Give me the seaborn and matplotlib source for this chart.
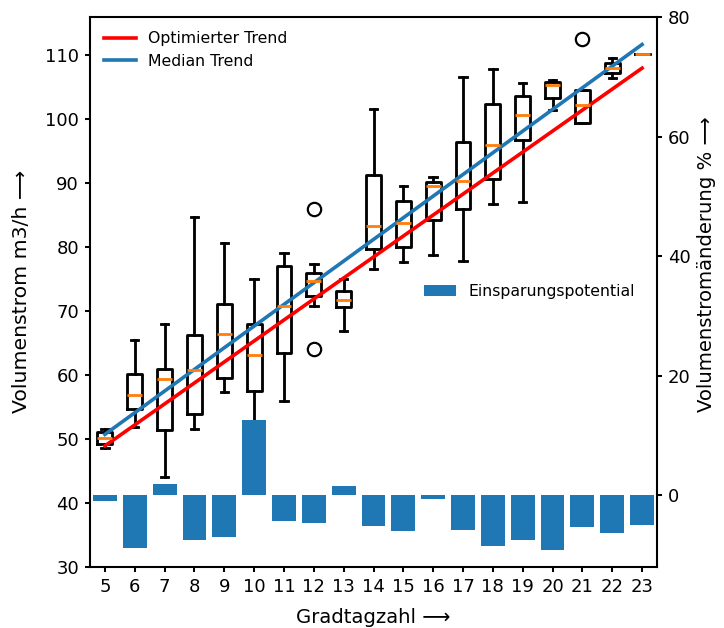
import matplotlib
matplotlib.use("Agg")
import matplotlib.pyplot as plt
import numpy as np
import pandas as pd
import seaborn as sns

# ---------------- data ----------------
gradtagzahl = list(range(5, 24))
whisker_low = [48.6, 51.8, 44.0, 51.5, 57.4, 51.0, 56.0, 70.8, 66.8, 76.6,
               77.7, 78.7, 77.9, 86.8, 87.0, 101.4, 99.4, 106.5, 110.2]
q1 = [49.2, 54.6, 51.4, 53.9, 59.6, 57.5, 63.4, 72.4, 70.6, 79.7,
      80.0, 84.2, 86.0, 90.6, 96.8, 103.3, 99.4, 107.2, 110.2]
median = [50.1, 56.9, 59.3, 60.8, 66.4, 63.1, 70.8, 74.7, 71.8, 83.3,
          83.7, 89.6, 90.3, 95.9, 100.6, 105.3, 102.3, 108.0, 110.2]
q3 = [51.1, 60.1, 60.9, 66.3, 71.1, 67.9, 77.0, 76.0, 73.2, 91.3,
      87.2, 90.2, 96.4, 102.4, 103.6, 105.8, 104.6, 108.8, 110.2]
whisker_high = [51.5, 65.5, 68.0, 84.7, 80.6, 75.0, 79.0, 77.3, 75.0, 101.6,
                89.6, 90.9, 106.6, 107.8, 105.6, 106.2, 104.6, 109.6, 110.2]
outliers = {12: [86.0, 64.0], 21: [112.6]}

einsparung = [-1.0, -8.8, 1.85, -7.55, -7.1, 12.6, -4.3, -4.7, 1.45, -5.15,
              -6.1, -0.67, -5.9, -8.6, -7.5, -9.2, -5.4, -6.3, -5.0]

trend_x = [5, 23]
optimierter_trend = [48.9, 108.0]
median_trend = [50.7, 111.7]

left_ticks = [30, 40, 50, 60, 70, 80, 90, 100, 110]
right_ticks = [0, 20, 40, 60, 80]

TICK_FS = 11.5
LABEL_FS = 13
LEG_FS = 10

# ---------------- figure ----------------
W, H, DPI = 724, 628, 113
fig = plt.figure(figsize=(W / DPI, H / DPI), dpi=DPI)
ax = fig.add_axes([90 / W, 1 - 566.7 / H, (657 - 90) / W, (566.7 - 17) / H])

stats = []
for i, g in enumerate(gradtagzahl):
    stats.append(dict(whislo=whisker_low[i], q1=q1[i], med=median[i], q3=q3[i],
                      whishi=whisker_high[i], fliers=outliers.get(g, []),
                      label=str(g)))

lw_box = 1.8
ax.bxp(stats, positions=gradtagzahl, widths=0.5,
       boxprops=dict(color="black", linewidth=lw_box),
       whiskerprops=dict(color="black", linewidth=lw_box),
       capprops=dict(color="black", linewidth=lw_box),
       medianprops=dict(color="#ff7f0e", linewidth=lw_box),
       flierprops=dict(marker="o", markerfacecolor="none",
                       markeredgecolor="black", markersize=8.5,
                       markeredgewidth=1.4))

trend_df = pd.DataFrame({
    "Gradtagzahl": trend_x * 2,
    "Volumenstrom": optimierter_trend + median_trend,
    "Trend": ["Optimierter Trend"] * 2 + ["Median Trend"] * 2,
})
sns.lineplot(data=trend_df, x="Gradtagzahl", y="Volumenstrom", hue="Trend",
             hue_order=["Optimierter Trend", "Median Trend"],
             palette={"Optimierter Trend": "red", "Median Trend": "#1f77b4"},
             linewidth=2.3, ax=ax)
handles, labels = ax.get_legend_handles_labels()
ax.legend(handles, labels, loc="upper left", frameon=False, fontsize=LEG_FS)

ax.set_ylim(30, 116)
ax.set_yticks(left_ticks)
ax.set_ylabel("Volumenstrom m3/h \u27f6", fontsize=LABEL_FS, labelpad=9)

# ---------------- twin axis with bars ----------------
ax2 = ax.twinx()
bar_df = pd.DataFrame({"Gradtagzahl": gradtagzahl, "Einsparungspotential": einsparung})
sns.barplot(data=bar_df, x="Gradtagzahl", y="Einsparungspotential",
            native_scale=True, color="#1f77b4", saturation=1, width=0.8,
            ax=ax2)
ax2.set_ylim(-12, 80)
ax2.set_yticks(right_ticks)
ax2.set_ylabel("Volumenstromänderung % \u27f6", fontsize=12.5)
ax2.yaxis.label.set_y(0.55)
ax2.set_xlabel("")
ax2.legend(handles=[ax2.patches[0]], labels=["Einsparungspotential"],
           loc="center left", bbox_to_anchor=(0.565, 0.5), frameon=False,
           fontsize=LEG_FS)

ax.set_xlim(4.5, 23.5)
ax.set_xticks(gradtagzahl)
ax.set_xticklabels([str(g) for g in gradtagzahl])
ax.set_xlabel("Gradtagzahl \u27f6", fontsize=12.5, labelpad=8)

for a in (ax, ax2):
    for s in a.spines.values():
        s.set_linewidth(1.3)
    a.tick_params(width=1.3, labelsize=TICK_FS)

fig.savefig("out.png", dpi=DPI)
